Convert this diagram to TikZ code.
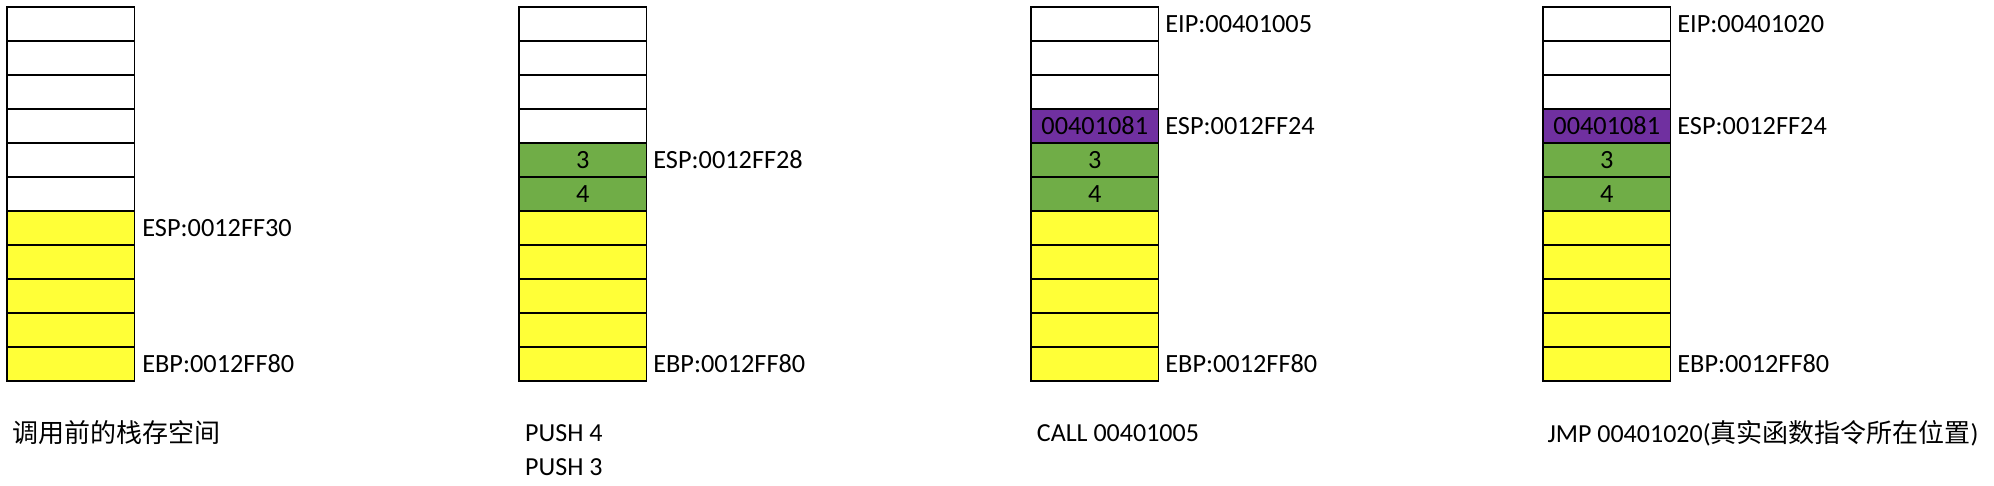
\documentclass[tikz,border=0pt]{standalone}
\usepackage{fontspec}
\setmainfont{Carlito}
\newfontfamily\cjk{Noto Sans CJK SC}
\definecolor{stkyellow}{HTML}{FFFF37}
\definecolor{stkgreen}{HTML}{70AD47}
\definecolor{stkpurple}{HTML}{7030A0}
\begin{document}
\begin{tikzpicture}[x=1pt,y=-1pt,
  cell/.style={draw=black, line width=1.3pt, minimum width=127.5pt, minimum height=34pt, inner sep=0pt, font=\fontsize{26.3}{30}\selectfont},
  lbl/.style={anchor=west, inner sep=0pt, font=\fontsize{26.3}{30}\selectfont},
  captxt/.style={anchor=west, inner sep=0pt, font=\fontsize{26}{30}\selectfont}]
\useasboundingbox (0,0) rectangle (1994,486);
% stack 1
\foreach \r/\f/\t in {1/white/,2/white/,3/white/,4/white/,5/white/,6/white/,7/stkyellow/,8/stkyellow/,9/stkyellow/,10/stkyellow/,11/stkyellow/}
  \node[cell, fill=\f] (a\r) at (70.75,{24+(\r-1)*34}) {\t};
% stack 2
\foreach \r/\f/\t in {1/white/,2/white/,3/white/,4/white/,5/stkgreen/3,6/stkgreen/4,7/stkyellow/,8/stkyellow/,9/stkyellow/,10/stkyellow/,11/stkyellow/}
  \node[cell, fill=\f] (b\r) at (582.75,{24+(\r-1)*34}) {\t};
% stack 3
\foreach \r/\f/\t in {1/white/,2/white/,3/white/,4/stkpurple/00401081,5/stkgreen/3,6/stkgreen/4,7/stkyellow/,8/stkyellow/,9/stkyellow/,10/stkyellow/,11/stkyellow/}
  \node[cell, fill=\f] (c\r) at (1094.75,{24+(\r-1)*34}) {\t};
% stack 4
\foreach \r/\f/\t in {1/white/,2/white/,3/white/,4/stkpurple/00401081,5/stkgreen/3,6/stkgreen/4,7/stkyellow/,8/stkyellow/,9/stkyellow/,10/stkyellow/,11/stkyellow/}
  \node[cell, fill=\f] (d\r) at (1606.75,{24+(\r-1)*34}) {\t};
% register labels
\node[lbl] (a7l) at ([xshift=7pt]a7.east) {ESP:0012FF30};
\node[lbl] (a11l) at ([xshift=7pt]a11.east) {EBP:0012FF80};
\node[lbl] (b5l) at ([xshift=6pt]b5.east) {ESP:0012FF28};
\node[lbl] (b11l) at ([xshift=6pt]b11.east) {EBP:0012FF80};
\node[lbl] (c1l) at ([xshift=6pt]c1.east) {EIP:00401005};
\node[lbl] (c4l) at ([xshift=6pt]c4.east) {ESP:0012FF24};
\node[lbl] (c11l) at ([xshift=6pt]c11.east) {EBP:0012FF80};
\node[lbl] (d1l) at ([xshift=6pt]d1.east) {EIP:00401020};
\node[lbl] (d4l) at ([xshift=6pt]d4.east) {ESP:0012FF24};
\node[lbl] (d11l) at ([xshift=6pt]d11.east) {EBP:0012FF80};
% captions
\node[captxt] (capa) at (12.7,433) {\cjk 调用前的栈存空间};
\node[captxt] (capb1) at (525,433) {PUSH 4};
\node[captxt] (capb2) at (525,467) {PUSH 3};
\node[captxt] (capc) at (1036.7,433) {CALL 00401005};
\node[captxt] (capd) at (1547.3,433) {JMP 00401020({\cjk 真实函数指令所在位置})};
\end{tikzpicture}
\end{document}
